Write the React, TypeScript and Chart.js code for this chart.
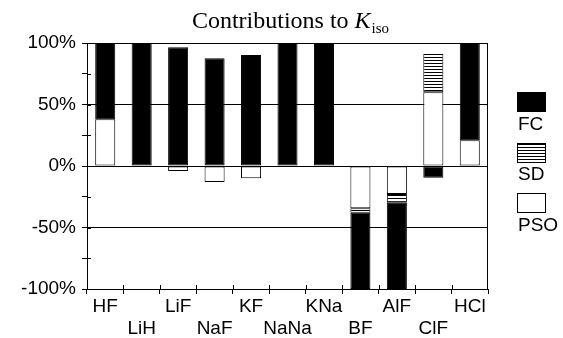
import React, { useEffect, useRef } from "react";
import { Chart, registerables } from "chart.js";

Chart.register(...registerables);

const categories = ["HF", "LiH", "LiF", "NaF", "KF", "NaNa", "KNa", "BF", "AlF", "ClF", "HCl"];
const psoValues = [38, null, -4, -13, -10, null, null, -34.4, -22.8, 60, 21];
const sdValues = [null, null, null, null, null, null, null, -3.6, -7, 31, null];
const fcValues = [62, 100, 96.5, 87.6, 90.2, 100, 100, -62, -70.2, -9.5, 79];
const yTickLabels: Record<number, string> = { 100: "100%", 50: "50%", 0: "0%", "-50": "-50%", "-100": "-100%" } as any;
const legendItems = ["FC", "SD", "PSO"];

const AXIS_FONT = "Liberation Sans, Arial, sans-serif";

function makeStripePattern(ctx: CanvasRenderingContext2D): CanvasPattern | string {
  const c = document.createElement("canvas");
  c.width = 4;
  c.height = 3;
  const g = c.getContext("2d")!;
  g.fillStyle = "#fff";
  g.fillRect(0, 0, 4, 3);
  g.fillStyle = "#000";
  g.fillRect(0, 0, 4, 1);
  return ctx.createPattern(c, "repeat") || "#888";
}

export default function App() {
  const ref = useRef<HTMLCanvasElement>(null);

  useEffect(() => {
    const canvas = ref.current!;
    const ctx0 = canvas.getContext("2d")!;
    const stripes = makeStripePattern(ctx0);

    const decor = {
      id: "decor",
      afterDraw(chart: any) {
        const ctx = chart.ctx as CanvasRenderingContext2D;
        const { left, right, top, bottom } = chart.chartArea;
        ctx.save();
        // frame
        ctx.strokeStyle = "#000";
        ctx.lineWidth = 1;
        ctx.strokeRect(Math.round(left) + 0.5, Math.round(top) + 0.5, Math.round(right - left) - 1, Math.round(bottom - top));
        // inner ticks y
        const ys = chart.scales.y;
        ctx.beginPath();
        for (let v = -100; v <= 100; v += 25) {
          const py = Math.round(ys.getPixelForValue(v)) + 0.5;
          ctx.moveTo(left, py);
          ctx.lineTo(left + 4, py);
        }
        // inner ticks x at category boundaries
        const xs = chart.scales.x;
        const n = categories.length;
        const cw = (right - left) / n;
        for (let i = 1; i < n; i++) {
          const px = Math.round(left + i * cw) + 0.5;
          ctx.moveTo(px, bottom - 4);
          ctx.lineTo(px, bottom);
        }
        ctx.stroke();

        // title
        const t1 = "Contributions to ";
        const f1 = "24px 'Liberation Serif', 'Times New Roman', serif";
        const f2 = "italic 24px 'Liberation Serif', 'Times New Roman', serif";
        const f3 = "15px 'Liberation Serif', 'Times New Roman', serif";
        ctx.fillStyle = "#000";
        ctx.textBaseline = "alphabetic";
        ctx.textAlign = "left";
        ctx.font = f1;
        const w1 = ctx.measureText(t1).width;
        ctx.font = f2;
        const w2 = ctx.measureText("K").width;
        ctx.font = f3;
        const w3 = ctx.measureText("iso").width;
        const total = w1 + w2 + w3;
        let x = 290 - total / 2;
        const base = 28;
        ctx.font = f1;
        ctx.fillText(t1, x, base);
        x += w1;
        ctx.font = f2;
        ctx.fillText("K", x, base);
        x += w2 + 1;
        ctx.font = f3;
        ctx.fillText("iso", x, base + 5);

        // legend
        const boxes = [
          { y: 92, fill: "#000" },
          { y: 143, fill: stripes },
          { y: 193, fill: "#fff" },
        ];
        const bases = [130, 180, 231];
        legendItems.forEach((label, i) => {
          const b = boxes[i];
          ctx.fillStyle = b.fill as any;
          ctx.fillRect(517, b.y, 29, 20);
          ctx.strokeStyle = "#000";
          ctx.strokeRect(517.5, b.y + 0.5, 28, 19);
          ctx.fillStyle = "#000";
          ctx.font = `19px ${AXIS_FONT}`;
          ctx.textAlign = "left";
          ctx.fillText(label, 518, bases[i]);
        });
        ctx.restore();
      },
    };

    const common = {
      borderColor: "#000",
      borderWidth: 1,
      borderSkipped: false as const,
      barPercentage: 0.55,
      categoryPercentage: 1.0,
    };

    const chart = new Chart(canvas, {
      type: "bar",
      data: {
        labels: categories,
        datasets: [
          { label: "PSO", data: psoValues as any, backgroundColor: "#fff", ...common },
          { label: "SD", data: sdValues as any, backgroundColor: stripes as any, ...common },
          { label: "FC", data: fcValues as any, backgroundColor: "#000", ...common },
        ],
      },
      options: {
        animation: false,
        responsive: false,
        layout: { padding: { left: 0, top: 43, right: 75, bottom: 0 } },
        plugins: {
          legend: { display: false },
          title: { display: false },
          tooltip: { enabled: false },
        },
        scales: {
          x: {
            stacked: true,
            grid: {
              offset: true,
              drawOnChartArea: false,
              tickLength: 5,
              tickColor: "#000",
            },
            border: { color: "#000" },
            ticks: {
              autoSkip: false,
              maxRotation: 0,
              minRotation: 0,
              color: "#000",
              padding: 2,
              font: { family: AXIS_FONT, size: 19, lineHeight: 1.15 },
              callback: (_v: any, i: number) => (i % 2 === 0 ? [categories[i]] : ["", categories[i]]),
            },
            afterFit: (s: any) => {
              s.height = 49;
            },
          },
          y: {
            stacked: true,
            min: -100,
            max: 100,
            grid: {
              color: (c: any) => (c.tick && c.tick.value % 50 === 0 ? "#000" : "rgba(0,0,0,0)"),
              tickColor: "#000",
              tickLength: 5,
            },
            border: { color: "#000" },
            ticks: {
              stepSize: 25,
              autoSkip: false,
              color: "#000",
              padding: 6,
              font: { family: AXIS_FONT, size: 19 },
              callback: (v: any) => (yTickLabels as any)[v] ?? "",
            },
            afterFit: (s: any) => {
              s.width = 87;
            },
          },
        },
      },
      plugins: [decor],
    });
    return () => chart.destroy();
  }, []);

  return (
    <div style={{ position: "absolute", left: 0, top: 0, width: 563, height: 338, background: "#fff" }}>
      <canvas ref={ref} width={563} height={338} style={{ width: 563, height: 338, display: "block" }} />
    </div>
  );
}
